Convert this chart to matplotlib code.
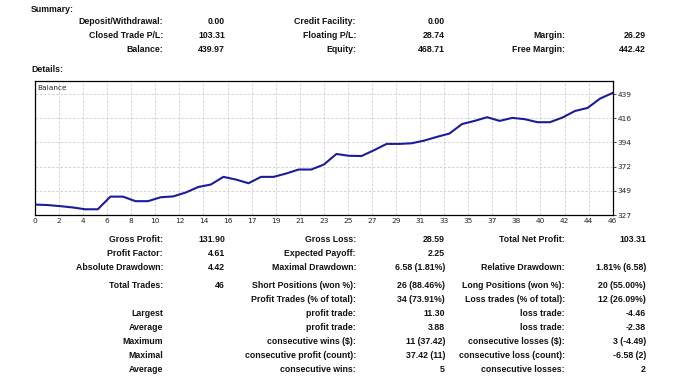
"""Account statement: summary block, balance curve, details table."""
import matplotlib

matplotlib.use("Agg")
import matplotlib.pyplot as plt
import numpy as np

W, H = 677, 378

# --- balance curve (trade index 0..46) ---------------------------------
balance = [336.66, 336.2, 335.2, 334.0, 332.3, 332.3, 344.0, 344.0, 339.8,
           339.8, 343.4, 344.2, 347.8, 352.9, 355.2, 362.3, 359.8, 356.4,
           362.3, 362.3, 365.4, 369.1, 369.1, 373.7, 383.5, 381.8, 381.6,
           387.0, 392.8, 392.8, 393.4, 395.9, 399.3, 402.4, 411.2, 414.1,
           417.5, 414.1, 416.9, 415.7, 412.9, 412.9, 417.2, 423.3, 426.1,
           434.8, 439.97]
x_labels = ["0", "2", "4", "6", "8", "10", "12", "14", "16", "17", "19", "21",
            "23", "25", "27", "29", "31", "33", "35", "37", "38", "40", "42",
            "44", "46"]
y_labels = ["327", "349", "372", "394", "416", "439"]

# --- summary block -------------------------------------------------------
summary_rows = [
    [("Deposit/Withdrawal:", "0.00"), ("Credit Facility:", "0.00"), ("", "")],
    [("Closed Trade P/L:", "103.31"), ("Floating P/L:", "28.74"), ("Margin:", "26.29")],
    [("Balance:", "439.97"), ("Equity:", "468.71"), ("Free Margin:", "442.42")],
]
summary_y = [22, 36, 50]

# --- details block -------------------------------------------------------
detail_rows = [
    [("Gross Profit:", "131.90"), ("Gross Loss:", "28.59"), ("Total Net Profit:", "103.31")],
    [("Profit Factor:", "4.61"), ("Expected Payoff:", "2.25"), ("", "")],
    [("Absolute Drawdown:", "4.42"), ("Maximal Drawdown:", "6.58 (1.81%)"),
     ("Relative Drawdown:", "1.81% (6.58)")],
    [("Total Trades:", "46"), ("Short Positions (won %):", "26 (88.46%)"),
     ("Long Positions (won %):", "20 (55.00%)")],
    [("", ""), ("Profit Trades (% of total):", "34 (73.91%)"),
     ("Loss trades (% of total):", "12 (26.09%)")],
    [("Largest", ""), ("profit trade:", "11.30"), ("loss trade:", "-4.46")],
    [("Average", ""), ("profit trade:", "3.88"), ("loss trade:", "-2.38")],
    [("Maximum", ""), ("consecutive wins ($):", "11 (37.42)"),
     ("consecutive losses ($):", "3 (-4.49)")],
    [("Maximal", ""), ("consecutive profit (count):", "37.42 (11)"),
     ("consecutive loss (count):", "-6.58 (2)")],
    [("Average", ""), ("consecutive wins:", "5"), ("consecutive losses:", "2")],
]
detail_y = [239, 253, 267, 286, 300, 314, 328, 342, 356, 370]

# right edges (px) of label / value columns
label_right = [163, 356, 565]
value_right = [225, 445, 646]

FONT = "Liberation Sans"
FS = 6.3


def fx(px):
    return px / W


def fy(py):
    return 1 - py / H


fig = plt.figure(figsize=(W / 100, H / 100), dpi=100)
fig.patch.set_facecolor("white")


def put(x, y, s, ha="right"):
    fig.text(fx(x), fy(y), s, ha=ha, va="center", fontsize=FS,
             fontweight="bold", family=FONT, color="#111111")


put(31, 9, "Summary:", ha="left")
put(31, 70, "Details:", ha="left")
for rows, ys in [(summary_rows, summary_y), (detail_rows, detail_y)]:
    for row, y in zip(rows, ys):
        for col, (lab, val) in enumerate(row):
            if lab:
                put(label_right[col], y, lab)
            if val:
                put(value_right[col], y, val)

# --- chart ---------------------------------------------------------------
ax = fig.add_axes([fx(35), fy(215), fx(612.7) - fx(35), fy(81) - fy(215)])
idx = np.arange(len(balance))
ax.plot(idx, balance, color="#1c1c9a", lw=1.5, solid_joinstyle="round")

n = len(balance) - 1
xt = np.linspace(0, n, len(x_labels))
yt = np.linspace(327, 439, len(y_labels))
ax.set_xlim(0, n)
ax.set_ylim(327, 439 + (439 - 327) / 121 * 13)
ax.set_xticks(xt)
ax.set_xticklabels(x_labels)
ax.set_yticks(yt)
ax.set_yticklabels(y_labels)
ax.yaxis.tick_right()
ax.tick_params(axis="both", labelsize=5.3, length=2, width=0.6, pad=1.5,
               colors="#222222")
ax.tick_params(axis="x", length=0, pad=2)
for lab in ax.get_xticklabels() + ax.get_yticklabels():
    lab.set_family("DejaVu Sans")
ax.grid(True, color="#cccccc", lw=0.6, ls=(0, (3, 2)))
for sp in ax.spines.values():
    sp.set_linewidth(0.9)
    sp.set_color("black")
ax.text(0.004, 0.97, "Balance", transform=ax.transAxes, ha="left", va="top",
        fontsize=5.3, color="#222222")

fig.savefig("out.png", dpi=100)
